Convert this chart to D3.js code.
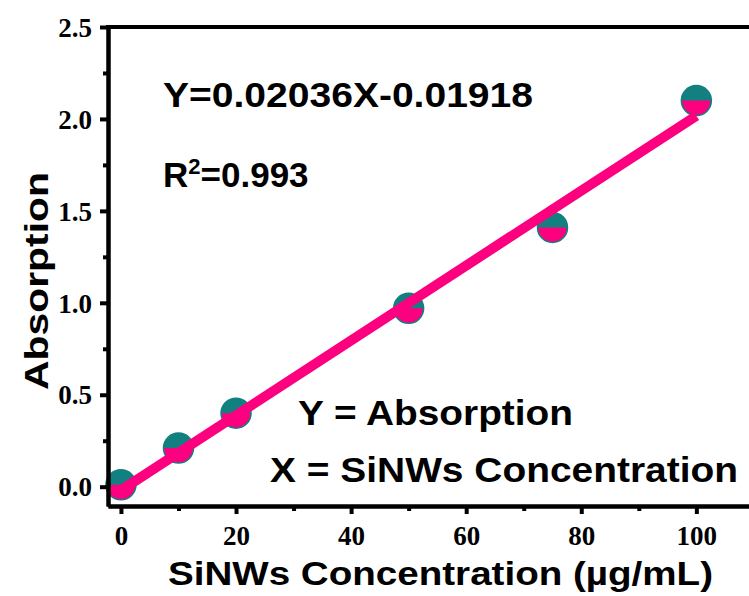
<!DOCTYPE html>
<html>
<head>
<meta charset="utf-8">
<script src="https://cdn.jsdelivr.net/npm/d3@7"></script>
<style>
  body { margin: 0; background: #fff; }
  svg { display: block; }
</style>
</head>
<body>
<div id="chart-area"></div>
<script>
// data
var concentration = [0, 10, 20, 50, 75, 100];
var absorption = [0.01, 0.21, 0.40, 0.97, 1.41, 2.10];
var fitSlope = 0.02036, fitIntercept = -0.01918;
var xTicks = [0, 20, 40, 60, 80, 100];
var xMinor = [10, 30, 50, 70, 90, 110];
var yTicks = [0.0, 0.5, 1.0, 1.5, 2.0, 2.5];
var yMinor = [0.25, 0.75, 1.25, 1.75, 2.25];

var W = 749, H = 596;
var mLeft = 108, mTop = 27, mBottom = 506, mRight = 770;

var teal = "#128080", pink = "#fd007f";

var svg = d3.select("#chart-area").append("svg")
    .attr("width", W).attr("height", H);

var x = d3.scaleLinear().domain([-2.25, 112.8]).range([mLeft, mRight]);
var y = d3.scaleLinear().domain([-0.105, 2.5]).range([mBottom, mTop]);

// markers: teal circle, pink lower half
var pts = svg.append("g").selectAll("g")
    .data(concentration.map(function (c, i) { return [c, absorption[i]]; }))
    .enter().append("g")
    .attr("transform", function (d) { return "translate(" + x(d[0]) + "," + y(d[1]) + ")"; });
var r = 15;
pts.append("circle").attr("r", r).attr("fill", teal);
pts.append("path")
    .attr("d", "M" + (-r) + ",0 A" + r + "," + r + " 0 0,0 " + r + ",0 Z")
    .attr("fill", pink);
pts.append("circle").attr("r", r).attr("fill", "none")
    .attr("stroke", teal).attr("stroke-width", 1.5);

// fit line
svg.append("line")
    .attr("x1", x(0)).attr("y1", y(fitIntercept))
    .attr("x2", x(100)).attr("y2", y(fitSlope * 100 + fitIntercept))
    .attr("stroke", pink).attr("stroke-width", 10);

// axes
function styleAxis(g) {
  g.selectAll(".domain").attr("stroke", "#000").attr("stroke-width", 4);
  g.selectAll(".tick line").attr("stroke", "#000").attr("stroke-width", 4);
  g.selectAll(".tick text")
      .attr("font-family", "'Liberation Serif', 'Times New Roman', serif")
      .attr("font-weight", "bold").attr("font-size", "27px").attr("fill", "#000");
}

var xAxis = svg.append("g").attr("transform", "translate(0," + mBottom + ")")
    .call(d3.axisBottom(x).tickValues(xTicks).tickSize(8).tickSizeOuter(0).tickPadding(12)
        .tickFormat(d3.format("d")));
styleAxis(xAxis);
var xMin = svg.append("g").attr("transform", "translate(0," + mBottom + ")")
    .call(d3.axisBottom(x).tickValues(xMinor).tickSize(5).tickSizeOuter(0).tickFormat(""));
styleAxis(xMin);

var yAxis = svg.append("g").attr("transform", "translate(" + mLeft + ",0)")
    .call(d3.axisLeft(y).tickValues(yTicks).tickSize(8).tickSizeOuter(0).tickPadding(8)
        .tickFormat(d3.format(".1f")));
styleAxis(yAxis);
yAxis.selectAll(".tick text").attr("dy", "0.34em");
var yMin = svg.append("g").attr("transform", "translate(" + mLeft + ",0)")
    .call(d3.axisLeft(y).tickValues(yMinor).tickSize(5).tickSizeOuter(0).tickFormat(""));
styleAxis(yMin);

// top frame line
svg.append("line")
    .attr("x1", mLeft - 2).attr("y1", mTop).attr("x2", W + 5).attr("y2", mTop)
    .attr("stroke", "#000").attr("stroke-width", 4);

// texts
var sans = "'Liberation Sans', Arial, sans-serif";
function label(txt, tx, ty, len, size) {
  return svg.append("text")
      .attr("x", tx).attr("y", ty)
      .attr("font-family", sans).attr("font-weight", "bold")
      .attr("font-size", size + "px").attr("fill", "#000")
      .attr("textLength", len).attr("lengthAdjust", "spacingAndGlyphs")
      .text(txt);
}

label("SiNWs Concentration (\u00b5g/mL)", 168, 585, 545, 33);

svg.append("text")
    .attr("transform", "translate(48,390) rotate(-90)")
    .attr("font-family", sans).attr("font-weight", "bold")
    .attr("font-size", "33px").attr("fill", "#000")
    .attr("textLength", 218).attr("lengthAdjust", "spacingAndGlyphs")
    .text("Absorption");

label("Y=0.02036X-0.01918", 163, 107, 370, 35);

var r2 = svg.append("text")
    .attr("x", 163).attr("y", 187)
    .attr("font-family", sans).attr("font-weight", "bold")
    .attr("font-size", "35px").attr("fill", "#000");
r2.append("tspan").text("R");
r2.append("tspan").attr("font-size", "22px").attr("dy", "-13").text("2");
r2.append("tspan").attr("dy", "13").text("=0.993");

label("Y = Absorption", 298, 425, 275, 35);
label("X = SiNWs Concentration", 270, 482, 468, 35);
</script>
</body>
</html>
